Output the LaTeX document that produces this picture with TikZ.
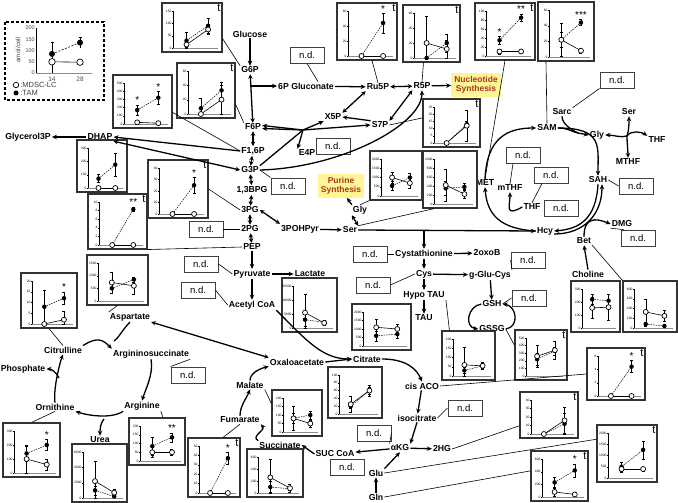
\documentclass[tikz,border=0pt]{standalone}
\usepackage{fontspec}
\setmainfont{Liberation Sans}
\usepackage{tikz}
\usetikzlibrary{positioning, arrows.meta, calc, fit}

\definecolor{synthfill}{RGB}{255,245,150}
\definecolor{synthtext}{RGB}{170,55,30}

\tikzset{
  plotframe/.style = {draw=black!80, line width=1.1pt, inner sep=0pt},
  opendot/.style   = {circle, draw, fill=white, line width=0.7pt,
                      inner sep=0pt, minimum size=5pt},
  filldot/.style   = {circle, fill=black, inner sep=0pt, minimum size=4.5pt},
  sig/.style       = {font=\fontsize{10}{10}\selectfont, inner sep=0pt},
  tlab/.style      = {font=\fontsize{11}{11}\selectfont, inner sep=2pt},
}

% mini plot: name, left, top, right, bottom, ymax, tick step,
% open data v1/e1/v2/e2, filled data v1/e1/v2/e2
\newcommand{\miniplot}[9]{%
  \pgfmathsetmacro{\mpx}{#2+11}%
  \pgfmathsetmacro{\mpy}{#5-4}%
  \pgfmathsetmacro{\mps}{(#5-#3-12)/#6}%
  \pgfmathsetmacro{\mpa}{\mpx+0.3*(#4-4-\mpx)}%
  \pgfmathsetmacro{\mpb}{\mpx+0.78*(#4-4-\mpx)}%
  \pgfmathtruncatemacro{\mpn}{#6/#7}%
  \node[plotframe, fit={(#2,#3) (#4,#5)}] (#1) {};
  \draw[black!45, line width=0.8pt] (\mpx,\mpy) -- (#4-4,\mpy);
  \draw[line width=0.4pt] (\mpx,\mpy) -- (\mpx,{\mpy-#6*\mps});
  \foreach \i in {0,...,\mpn} {%
    \pgfmathtruncatemacro{\tk}{\i*#7}%
    \draw[line width=0.3pt] (\mpx,{\mpy-\tk*\mps}) -- ++(-1,0)
      node[left, inner sep=0.4pt, font=\fontsize{3.3}{3.5}\selectfont] {\tk};
  }
  \foreach \va/\ea/\vb/\eb in {#9} {%
    \draw[line width=0.5pt, dash pattern=on 1.5pt off 1pt]
      (\mpa,{\mpy-\va*\mps}) -- (\mpb,{\mpy-\vb*\mps});
    \draw[line width=0.4pt]
      (\mpa-1.5,{\mpy-(\va+\ea)*\mps}) -- ++(3,0)
      (\mpa,{\mpy-(\va+\ea)*\mps}) -- (\mpa,{\mpy-max(\va-\ea,0)*\mps})
      (\mpa-1.5,{\mpy-max(\va-\ea,0)*\mps}) -- ++(3,0)
      (\mpb-1.5,{\mpy-(\vb+\eb)*\mps}) -- ++(3,0)
      (\mpb,{\mpy-(\vb+\eb)*\mps}) -- (\mpb,{\mpy-max(\vb-\eb,0)*\mps})
      (\mpb-1.5,{\mpy-max(\vb-\eb,0)*\mps}) -- ++(3,0);
    \coordinate (#1-a) at (\mpa,{\mpy-(\va+\ea)*\mps});
    \coordinate (#1-b) at (\mpb,{\mpy-(\vb+\eb)*\mps});
  }
  \foreach \va/\ea/\vb/\eb in {#8} {%
    \draw[line width=0.6pt] (\mpa,{\mpy-\va*\mps}) -- (\mpb,{\mpy-\vb*\mps});
    \draw[line width=0.4pt]
      (\mpa-1.5,{\mpy-(\va+\ea)*\mps}) -- ++(3,0)
      (\mpa,{\mpy-(\va+\ea)*\mps}) -- (\mpa,{\mpy-max(\va-\ea,0)*\mps})
      (\mpa-1.5,{\mpy-max(\va-\ea,0)*\mps}) -- ++(3,0)
      (\mpb-1.5,{\mpy-(\vb+\eb)*\mps}) -- ++(3,0)
      (\mpb,{\mpy-(\vb+\eb)*\mps}) -- (\mpb,{\mpy-max(\vb-\eb,0)*\mps})
      (\mpb-1.5,{\mpy-max(\vb-\eb,0)*\mps}) -- ++(3,0);
  }
  \foreach \va/\ea/\vb/\eb in {#9} {%
    \node[filldot] at (\mpa,{\mpy-\va*\mps}) {};
    \node[filldot] at (\mpb,{\mpy-\vb*\mps}) {};
  }
  \foreach \va/\ea/\vb/\eb in {#8} {%
    \node[opendot] at (\mpa,{\mpy-\va*\mps}) {};
    \node[opendot] at (\mpb,{\mpy-\vb*\mps}) {};
  }
}

\begin{document}
\begin{tikzpicture}[
    x=1pt, y=-1pt,
    met/.style={font=\bfseries\fontsize{8.7}{9}\selectfont, inner sep=1pt},
    ndbox/.style={draw=black!75, line width=0.9pt, minimum width=34pt,
                  minimum height=16pt, inner sep=0pt,
                  font=\fontsize{9.5}{10}\selectfont},
    synth/.style={fill=synthfill, text=synthtext, align=center,
                  font=\bfseries\fontsize{8.5}{9.5}\selectfont, inner sep=3pt},
    rx/.style={-{Stealth[length=5pt,width=4.5pt]}, line width=1.3pt},
    rxx/.style={{Stealth[length=4.5pt,width=4.5pt]}-{Stealth[length=4.5pt,width=4.5pt]},
                line width=1.3pt},
    rl/.style={line width=1.3pt},
    lead/.style={line width=0.6pt},
    ]

    \useasboundingbox (0,0) rectangle (678,503);

    % legend
    \draw[line width=1.1pt, dash pattern=on 3pt off 2pt] (5,22) rectangle (104,100);
    \draw[black!45, line width=0.8pt] (36,73) -- (92,73);
    \draw[line width=0.5pt] (36,73) -- (36,28);
    \foreach \tk in {0,50,...,200}
      \node[left, inner sep=1pt, font=\fontsize{5.5}{5.5}\selectfont, text=black!70]
        at (36,{73-\tk*0.225}) {\tk};
    \node[rotate=90, font=\fontsize{6.5}{6.5}\selectfont, text=black!70] (ylab) at (18,50) {amol/cell};
    \node[font=\fontsize{6.5}{6.5}\selectfont, text=black!70] (d14) at (52,79) {14};
    \node[font=\fontsize{6.5}{6.5}\selectfont, text=black!70] (d28) at (80,79) {28};
    \draw[line width=0.6pt, dash pattern=on 2pt off 1.5pt] (52,53.9) -- (80,42.6);
    \draw[line width=0.6pt] (52,61.8) -- (80,62.2);
    \draw[line width=0.4pt] (52,42.6) -- (52,73) (80,36.9) -- (80,48.2)
                            (50.5,42.6) -- ++(3,0) (78.5,36.9) -- ++(3,0);
    \node[filldot, minimum size=6pt] at (52,53.9) {};
    \node[filldot, minimum size=6pt] at (80,42.6) {};
    \node[opendot, minimum size=6.5pt] at (52,61.8) {};
    \node[opendot, minimum size=6.5pt] at (80,62.2) {};
    \node[opendot, minimum size=5.5pt] (lgo) at (16,85) {};
    \node[filldot, minimum size=5pt] (lgf) at (16,93) {};
    \node[right=1pt of lgo, font=\fontsize{7.5}{7.5}\selectfont, text=black!75, inner sep=0pt] {:MDSC-LC};
    \node[right=1.5pt of lgf, font=\fontsize{7.5}{7.5}\selectfont, text=black!75, inner sep=0pt] {:TAM};

    % metabolites: glycolysis and pentose phosphate
    \node[met] (glc) at (250,34) {Glucose};
    \node[met] (g6p) at (250,70) {G6P};
    \node[met] (pgl) at (306,86) {6P Gluconate};
    \node[met] (ru5p) at (378,87) {Ru5P};
    \node[met] (r5p) at (422,86) {R5P};
    \node[synth] (nuc) at (476,85) {Nucleotide\\Synthesis};
    \node[met] (f6p) at (253,127) {F6P};
    \node[met] (x5p) at (333,117) {X5P};
    \node[met] (s7p) at (380,125) {S7P};
    \node[met] (f16p) at (253,151) {F1,6P};
    \node[met] (e4p) at (307,153) {E4P};
    \node[met] (g3p) at (250,170) {G3P};
    \node[met] (dhap) at (100,137) {DHAP};
    \node[met] (gly3p) at (28,137) {Glycerol3P};
    \node[met] (bpg) at (252,190) {1,3BPG};
    \node[met] (pg3) at (250,210) {3PG};
    \node[met] (pg2) at (250,229) {2PG};
    \node[met] (pep) at (252,247) {PEP};
    \node[met] (pyr) at (252,274) {Pyruvate};
    \node[met] (lac) at (310,274) {Lactate};
    \node[met] (acoa) at (252,305) {Acetyl CoA};
    \node[met] (ohpyr) at (300,229) {3POHPyr};

    % serine, one-carbon, transsulfuration
    \node[synth] (pur) at (341,186) {Purine\\Synthesis};
    \node[met] (glyA) at (360,210) {Gly};
    \node[met] (ser) at (350,230) {Ser};
    \node[met] (cysta) at (424,254) {Cystathionine};
    \node[met] (oxob) at (487,253) {2oxoB};
    \node[met] (cys) at (424,274) {Cys};
    \node[met] (ggc) at (490,275) {g-Glu-Cys};
    \node[met] (htau) at (424,295) {Hypo TAU};
    \node[met] (tau) at (424,318) {TAU};
    \node[met] (gsh) at (492,304) {GSH};
    \node[met] (gssg) at (492,329) {GSSG};
    \node[met] (met) at (485,183) {MET};
    \node[met] (mthf) at (510,188) {mTHF};
    \node[met] (thf) at (532,207) {THF};
    \node[met] (sam) at (547,128) {SAM};
    \node[met] (sah) at (598,180) {SAH};
    \node[met] (hcy) at (545,231) {Hcy};
    \node[met] (sarc) at (562,112) {Sarc};
    \node[met] (glyB) at (597,135) {Gly};
    \node[met] (serB) at (629,112) {Ser};
    \node[met] (thfB) at (657,140) {THF};
    \node[met] (mthfB) at (628,162) {MTHF};
    \node[met] (dmg) at (622,224) {DMG};
    \node[met] (bet) at (584,241) {Bet};
    \node[met] (cho) at (588,274) {Choline};

    % urea cycle and TCA cycle
    \node[met] (asp) at (130,317) {Aspartate};
    \node[met] (citl) at (63,350) {Citrulline};
    \node[met] (asuc) at (151,354) {Argininosuccinate};
    \node[met] (phos) at (23,369) {Phosphate};
    \node[met] (orn) at (55,407) {Ornithine};
    \node[met] (arg) at (142,406) {Arginine};
    \node[met] (urea) at (100,440) {Urea};
    \node[met] (oaa) at (297,362) {Oxaloacetate};
    \node[met] (mal) at (250,385) {Malate};
    \node[met] (fum) at (240,420) {Fumarate};
    \node[met] (suc) at (280,445) {Succinate};
    \node[met] (succoa) at (335,454) {SUC CoA};
    \node[met] (cit) at (367,359) {Citrate};
    \node[met] (caco) at (422,386) {cis ACO};
    \node[met] (icit) at (417,418) {isocitrate};
    \node[met] (akg) at (400,448) {αKG};
    \node[met] (hg) at (442,449) {2HG};
    \node[met] (glu) at (376,473) {Glu};
    \node[met] (gln) at (376,497) {Gln};

    % not detected
    \node[ndbox] (nd1) at (307,55) {n.d.};
    \node[ndbox] (nd2) at (333,146) {n.d.};
    \node[ndbox] (nd3) at (288,186) {n.d.};
    \node[ndbox] (nd4) at (206,229) {n.d.};
    \node[ndbox] (nd5) at (201,264) {n.d.};
    \node[ndbox] (nd6) at (198,290) {n.d.};
    \node[ndbox] (nd7) at (370,254) {n.d.};
    \node[ndbox] (nd8) at (373,285) {n.d.};
    \node[ndbox] (nd9) at (528,260) {n.d.};
    \node[ndbox] (nd10) at (529,298) {n.d.};
    \node[ndbox] (nd11) at (551,175) {n.d.};
    \node[ndbox] (nd12) at (523,155) {n.d.};
    \node[ndbox] (nd13) at (561,208) {n.d.};
    \node[ndbox] (nd14) at (636,186) {n.d.};
    \node[ndbox] (nd15) at (638,238) {n.d.};
    \node[ndbox] (nd16) at (617,80) {n.d.};
    \node[ndbox] (nd17) at (188,375) {n.d.};
    \node[ndbox] (nd18) at (465,408) {n.d.};
    \node[ndbox] (nd19) at (374,433) {n.d.};
    \node[ndbox] (nd20) at (347,467) {n.d.};

    % plots
    \miniplot{pGlc}{162}{3}{222}{52}{150}{50}{14/10/75/20}{30/35/90/30}
    \miniplot{pF6P}{177}{63}{235}{118}{60}{20}{0/0/20/20}{8/14/33/12}
    \miniplot{pF16P}{113}{75}{172}{128}{500}{100}{20/30/10/5}{170/60/320/80}
    \miniplot{pDHAP}{77}{140}{127}{192}{300}{100}{0/0/0/5}{70/30/175/85}
    \miniplot{pPEP}{88}{194}{147}{249}{10}{2}{0/0/0/0}{0/0/8.3/0.5}
    \miniplot{pPG3}{148}{160}{208}{218}{40}{10}{0/0/0/0}{0/0/25/7}
    \miniplot{pAsp}{87}{255}{148}{305}{1500}{500}{730/420/600/350}{500/200/850/100}
    \miniplot{pCitl}{21}{273}{77}{328}{20}{5}{0/0/2/4}{8/7.5/12/3}
    \miniplot{pLac}{282}{278}{337}{332}{15000}{5000}{5500/6500/1800/800}{3000/2500/2000/800}
    \miniplot{pGlyA}{370}{151}{422}{200}{2000}{500}{1000/300/700/300}{550/250/1000/250}
    \miniplot{pSer}{423}{151}{477}{208}{1000}{200}{420/360/220/100}{350/150/380/80}
    \miniplot{pTau}{352}{304}{411}{350}{2000}{500}{1100/500/1000/300}{600/300/700/250}
    \miniplot{pHtau}{442}{331}{495}{380}{200}{50}{60/95/55/20}{30/15/55/15}
    \miniplot{pCaco}{587}{348}{645}{400}{6}{2}{0/0/0/0}{0/0/4.4/0.9}
    \miniplot{pGssg}{515}{330}{567}{380}{500}{100}{260/150/340/120}{220/80/330/50}
    \miniplot{pHg}{520}{392}{578}{438}{40}{10}{0/0/16/15}{0/0/12/12}
    \miniplot{pGlu}{597}{425}{657}{482}{2000}{500}{400/150/400/80}{500/200/1250/400}
    \miniplot{pGln}{531}{451}{588}{501}{600}{200}{80/60/40/10}{230/80/420/100}
    \miniplot{pCho}{571}{281}{620}{332}{300}{100}{155/80/160/100}{220/40/210/50}
    \miniplot{pBet}{623}{281}{677}{332}{800}{200}{330/270/250/120}{80/40/40/20}
    \miniplot{pRu5p}{337}{3}{397}{60}{60}{20}{0/0/0/0}{0/0/44/13}
    \miniplot{pR5p}{403}{5}{460}{62}{60}{20}{20/36/12/12}{0/0/20/12}
    \miniplot{pS7p}{423}{99}{480}{147}{25}{5}{0/0/12/11}{0/0/13/2}
    \miniplot{pMet}{475}{3}{535}{60}{100}{20}{10/6/10/3}{35/8/85/8}
    \miniplot{pSam}{538}{2}{594}{61}{60}{20}{22/21/8/3}{22/10/44/4}
    \miniplot{pUrea}{72}{444}{127}{502}{6000}{2000}{2200/2600/700/500}{1000/600/200/100}
    \miniplot{pOrn}{3}{423}{60}{477}{300}{100}{100/100/60/40}{140/55/200/40}
    \miniplot{pArg}{129}{418}{185}{465}{200}{50}{50/30/50/15}{85/50/135/25}
    \miniplot{pFum}{188}{438}{240}{497}{50}{10}{0/0/0/0}{0/0/37/6}
    \miniplot{pMal}{272}{390}{322}{436}{200}{50}{80/70/50/20}{80/30/100/25}
    \miniplot{pSuc}{247}{449}{303}{497}{600}{200}{260/300/80/70}{100/90/70/30}
    \miniplot{pCit}{328}{367}{382}{418}{100}{20}{25/20/60/15}{20/5/60/10}

    % significance marks
    \foreach \p in {pGlc, pF6P, pPEP, pPG3, pCaco, pGssg, pHg, pGlu, pGln,
                    pRu5p, pR5p, pS7p, pMet, pFum}
      \node[tlab, anchor=north east] at (\p.north east) {t};
    \foreach \p in {pPG3, pCitl, pCaco, pGln, pRu5p, pOrn, pFum}
      \node[sig, above=1pt] at (\p-b) {*};
    \node[sig, above=1pt] at (pF16P-a) {*};
    \node[sig, above=1pt] at (pF16P-b) {*};
    \node[sig, above=1pt] at (pMet-a) {*};
    \node[sig, above=1pt] at (pMet-b) {**};
    \node[sig, above=1pt] at (pPEP-b) {**};
    \node[sig, above=1pt] at (pArg-b) {**};
    \node[sig, above=1pt] at (pSam-b) {***};

    % glycolysis
    \draw[rx] (glc) -- (g6p);
    \draw[rxx] (g6p) -- (f6p);
    \draw[rx] (g6p.south |- pgl.west) -- (pgl.west);
    \draw[rx] (pgl) -- (ru5p);
    \draw[rxx] (ru5p) -- (r5p);
    \draw[rx] (r5p) -- (nuc);
    \draw[rxx] (f6p) -- (f16p);
    \draw[rxx] (f16p) -- (g3p);
    \draw[rxx] (g3p) -- (bpg);
    \draw[rxx] (bpg) -- (pg3);
    \draw[rxx] (pg3) -- (pg2);
    \draw[rxx] (pg2) -- (pep);
    \draw[rx] (pep) -- (pyr);
    \draw[rx] (pyr) -- (lac);
    \draw[rx] (pyr) -- (acoa);
    \draw[rxx] (pg3.east) -- (ohpyr.north west);
    \draw[rx] (ohpyr) -- (ser);
    \draw[rx] (dhap) -- (gly3p);
    \draw[rx] (f16p.west) -- (dhap.east);
    \draw[rxx] (g3p.west) -- (dhap.south east);

    % pentose phosphate, non-oxidative
    \coordinate (jx) at (303,130);
    \draw[rx] (jx) -- ([yshift=1.5pt]f6p.east);
    \draw[rx] (jx) -- ([yshift=-1.5pt]f6p.east);
    \draw[rx] (jx) -- (x5p.south west);
    \draw[rx] (jx) -- (e4p.north west);
    \draw[rx] (jx) -- (s7p.west);
    \draw[rl] (jx) -- (g3p.north east);
    \draw[rx] (s7p.north west) -- (x5p.east);
    \draw[rxx] (x5p.north east) -- (ru5p.south west);
    \draw[rxx] (s7p.north east) -- (r5p.south west);
    \draw[rx] (g3p.east) .. controls +(80,-2) and +(0,35) .. (r5p.south);

    % serine
    \draw[rx] (glyA.north west) -- ([xshift=6pt]pur.south);
    \draw[rxx] (glyA.south west) -- (ser.north east);
    \draw[rx] (ser.east) -- (hcy.west);
    \coordinate (sj) at (cysta.north |- ser.east);
    \draw[rx] (sj) -- (cysta.north);
    \draw[rx] (cysta) -- (oxob);
    \draw[rx] (cysta) -- (cys);
    \draw[rx] (cys) -- (ggc);
    \draw[rx] (cys) -- (htau);
    \draw[rx] (htau) -- (tau);
    \draw[rx] (ggc) -- (gsh);
    \draw[rx] (gsh.west) .. controls +(-14,2) and +(-14,-2) .. (gssg.west);
    \draw[rx] (gssg.east) .. controls +(14,-2) and +(14,2) .. (gsh.east);

    % methionine cycle
    \draw[rx] (met.north) .. controls +(2,-40) and +(-30,0) .. (sam.west);
    \draw[rx] (sam.east) .. controls +(45,0) and +(0,-30) .. (sah.north);
    \draw[rx] (sah.south) .. controls +(-2,35) and +(25,-2) .. (hcy.east);
    \draw[rx] ([yshift=-3pt]hcy.east) .. controls +(30,0) and +(0,30) .. ([xshift=4pt]sah.south);
    \draw[rx] (hcy.west) .. controls +(-35,-2) and +(2,28) .. (met.south);
    \draw[rx] (thf.west) .. controls +(-18,10) and +(0,14) .. (mthf.south);
    \coordinate (gj) at (578,133);
    \draw[rl] (sarc.south) .. controls +(0,8) and +(-6,-3) .. (gj);
    \draw[rl] (sam.east) .. controls +(10,0) and +(-8,-2) .. (gj);
    \draw[rx] (gj) -- (glyB.west);
    \coordinate (q) at (627,136);
    \draw[rx] (q) .. controls +(-6,2) and +(8,0) .. (glyB.east);
    \draw[rx] (q) .. controls +(2,-6) and +(0,8) .. (serB.south);
    \draw[rx] (q) .. controls +(4,-6) and +(-6,-4) .. (thfB.north west);
    \draw[rx] (q) .. controls +(0,6) and +(0,-6) .. (mthfB.north);
    \draw[rx] (bet.north) .. controls +(0,-20) and +(-15,-6) .. (dmg.west);
    \draw[rx] (cho.north) -- (bet.south);

    % urea cycle
    \coordinate (aj) at (114,341);
    \draw[rl] (asp.south) .. controls +(-8,8) and +(4,-2) .. (aj);
    \draw[rx] (citl.north east) .. controls +(15,-10) and +(-8,-8) .. (asuc.north west);
    \draw[rx] (asuc.south) .. controls +(3,14) and +(3,-10) .. (arg.north);
    \coordinate (uj) at (104,419);
    \draw[rx] (arg.south west) .. controls +(-12,8) and +(12,4) .. (orn.south east);
    \draw[rx] (uj) .. controls +(-4,4) and +(0,-5) .. (urea.north);
    \draw[rx] (orn.north) .. controls +(-2,-14) and +(-3,8) .. (citl.south);
    \coordinate (pj) at (59,378);
    \draw[rx] (pj) .. controls +(-3,-6) and +(5,0) .. (phos.east);

    % TCA cycle
    \draw[rxx] (asp.south east) -- (oaa.north west);
    \draw[rx] (acoa.south east) .. controls +(30,30) and +(-30,0) .. (cit.west);
    \draw[rx] (oaa.east) -- (cit.west);
    \draw[rx] (cit.east) .. controls +(25,0) and +(-5,-12) .. (caco.north);
    \draw[rx] (caco) -- (icit);
    \draw[rx] (icit.south) -- (akg.north east);
    \draw[rx] (akg) -- (hg);
    \draw[rx] (akg) -- (succoa);
    \draw[rx] (glu.north east) -- (akg.south);
    \draw[rx] (gln) -- (glu);
    \draw[rx] (succoa.west) -- (suc.east);
    \draw[rx] (suc.north west) .. controls +(-8,-4) and +(5,6) .. (fum.south east);
    \draw[rx] (fum.north) .. controls +(0,-10) and +(-3,8) .. (mal.south);
    \draw[rx] (mal.north) .. controls +(0,-8) and +(-8,2) .. (oaa.south west);

    % leaders from plots
    \draw[lead] (pGlc.-20) -- (g6p.north west);
    \draw[lead] (pF6P.-25) -- (f6p.north west);
    \draw[lead] (pF16P.-20) -- (f16p.west);
    \draw[lead] (pPG3.east) -- (pg3.west);
    \draw[lead] (pPEP.south east) -- (pep.west);
    \draw[lead] (pAsp.south) -- (asp.north west);
    \draw[lead] (pCitl.south) -- (citl.north);
    \draw[lead] (pGlyA.south west) -- (glyA.north);
    \draw[lead] ([xshift=12pt]pSer.south west) -- (ser.north east);
    \draw[lead] (htau.south east) -- ([xshift=8pt]pHtau.north west);
    \draw[lead] (caco.east) -- (pCaco.west);
    \draw[lead] (gssg.east) -- (pGssg.160);
    \draw[lead] (hg.east) -- (pHg.-160);
    \draw[lead] (glu.east) -- (pGlu.155);
    \draw[lead] (gln.east) -- (pGln.170);
    \draw[lead] (bet.south east) -- (pBet.north west);
    \draw[lead] ([xshift=5pt]pRu5p.south) -- (ru5p.north);
    \draw[lead] ([xshift=-8pt]pR5p.south) -- (r5p.north);
    \draw[lead] (s7p.east) -- (pS7p.170);
    \draw[lead] (pMet.south) -- (met.north);
    \draw[lead] ([xshift=-20pt]pSam.south) -- (sam.north);
    \draw[lead] (pOrn.north) -- (orn.south);
    \draw[lead] (arg.south east) -- ([xshift=6pt]pArg.north);
    \draw[lead] ([xshift=9pt]pFum.north) -- (fum.south);
    \draw[lead] (mal.south east) -- (pMal.160);

    % leaders from n.d. boxes
    \draw[lead] (nd1.south) -- ([xshift=12pt]pgl.north);
    \draw[lead] (nd3.north west) -- (g3p.east);
    \draw[lead] (nd4.east) -- (pg2.west);
    \draw[lead] (nd5.east) -- (pyr.west);
    \draw[lead] (nd6.east) -- (acoa.west);
    \draw[lead] (nd7.east) -- (cysta.west);
    \draw[lead] (nd8.east) -- (cys.west);
    \draw[lead] (nd9.west) -- (ggc.north east);
    \draw[lead] (nd10.west) -- (gsh.east);
    \draw[lead] ([xshift=-9pt]nd11.south) -- (thf.north);
    \draw[lead] ([xshift=-10pt]nd12.south) -- (mthf.north);
    \draw[lead] (sah.east) -- (nd14.west);
    \draw[lead] (dmg.south west) -- ([xshift=3pt]nd15.north west);
    \draw[lead] (nd16.south west) -- (sarc.north east);
    \draw[lead] (asuc.south east) -- (nd17.north west);
    \draw[lead] (icit.east) -- (nd18.west);
    \draw[lead] (nd19.east) -- (akg.north west);

\end{tikzpicture}
\end{document}
